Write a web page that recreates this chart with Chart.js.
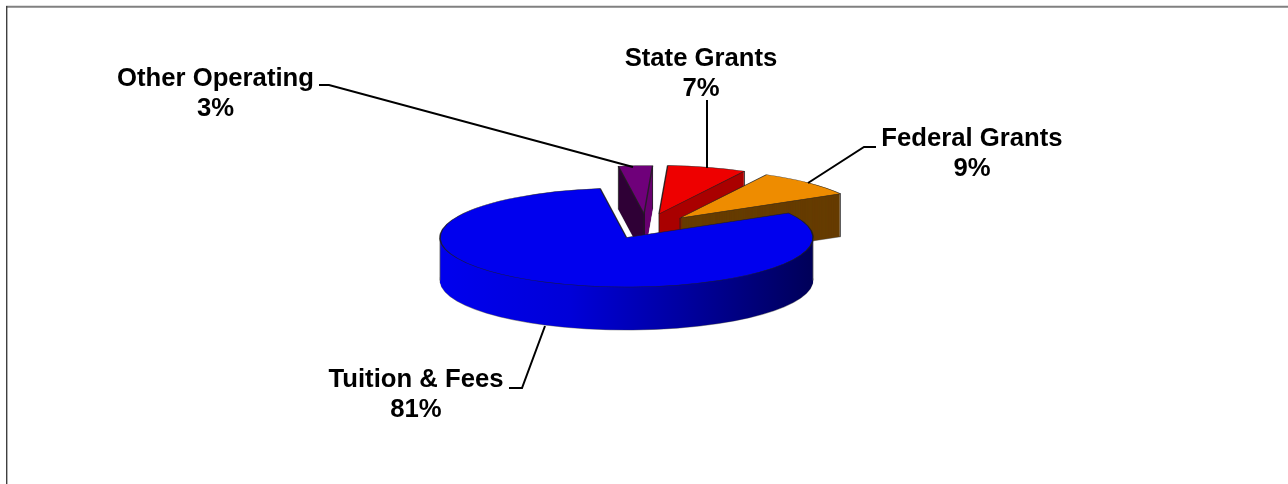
<!DOCTYPE html>
<html>
<head>
<meta charset="utf-8">
<title>Revenue sources</title>
<script src="https://cdn.jsdelivr.net/npm/chart.js@4"></script>
<style>
  html, body { margin: 0; padding: 0; background: #ffffff; }
  canvas { display: block; }
</style>
</head>
<body>
<canvas id="pie" width="1288" height="484"></canvas>
<script>
// Values
const categories = ['Tuition & Fees', 'Other Operating', 'State Grants', 'Federal Grants'];
const shares = [81, 3, 7, 9];

// Colours of each slice: top face and wall
const topColors = ['#0000ee', '#6f007a', '#ee0000', '#ee8c00'];

// Fake 3D set up
const CX = 626.5, CY = 237.5;      // centre of the blue ellipse
const RADIUS = 186.5;
const SQUASH = 0.2654;
const DEPTH = 43;
// apex shift and size of the exploded slices, in screen px
const sliceShift = [[0, 0], [17.5, -23.5], [32.5, -23.5], [53.5, -19.5]];
const sliceScale = [1, 0.975, 0.98, 0.99];
const drawOrder = [1, 2, 3, 0];

// Label positions and leader lines
const FONT = 'bold 25.7px "Liberation Sans", Arial, sans-serif';
const labelPos = [[416, 380], [215.5, 79], [701, 59], [972, 139]];
const leaders = [
  [[509, 388], [522, 388], [545, 326]],
  [[319, 85], [329, 85], [633, 167]],
  [[707, 100], [707, 168]],
  [[876, 147], [864, 147], [808, 183]]
];

function wallFill(ctx, i, toLocal) {
  if (i === 0) {
    const g = ctx.createLinearGradient(toLocal(440), 0, toLocal(813), 0);
    g.addColorStop(0, '#0000ee');
    g.addColorStop(0.35, '#0000d8');
    g.addColorStop(0.65, '#0000a0');
    g.addColorStop(1, '#000058');
    return g;
  }
  if (i === 1) {
    const g = ctx.createLinearGradient(toLocal(617), 0, toLocal(652), 0);
    g.addColorStop(0, '#2f0036');
    g.addColorStop(0.79, '#2f0036');
    g.addColorStop(0.79, '#68006f');
    g.addColorStop(1, '#68006f');
    return g;
  }
  return i === 2 ? '#aa0000' : '#663c00';
}

// vertical seams of a wall, at the apex and the outer corners that show
function drawSeams(ctx, arc, i, sx, sy, s) {
  const r = arc.outerRadius * s;
  const corner = a => [sx + r * Math.cos(a), sy + r * SQUASH * Math.sin(a)];
  let pts;
  if (i === 0) pts = [[CX - RADIUS, CY], [CX + RADIUS, CY]];
  else if (i === 1) pts = [[sx, sy], corner(arc.startAngle), corner(arc.endAngle)];
  else pts = [[sx, sy], corner(arc.endAngle)];

  ctx.save();
  ctx.strokeStyle = i === 0 ? 'rgba(90,90,90,0.8)' : 'rgba(30,30,30,0.8)';
  ctx.lineWidth = 1;
  pts.forEach(p => {
    ctx.beginPath();
    ctx.moveTo(p[0], p[1]);
    ctx.lineTo(p[0], p[1] + DEPTH);
    ctx.stroke();
  });
  ctx.restore();
}

const pie3d = {
  id: 'pie3d',
  // the slices are painted here, squashed and extruded, instead of flat
  beforeDatasetsDraw(chart) {
    const ctx = chart.ctx;
    const arcs = chart.getDatasetMeta(0).data;

    drawOrder.forEach(i => {
      const arc = arcs[i];
      const opts = arc.options;
      const s = sliceScale[i];
      const sx = CX + sliceShift[i][0];
      const sy = CY + sliceShift[i][1];
      const toLocal = x => (x - sx) / s + arc.x;

      const place = d => {
        ctx.translate(sx, sy + d);
        ctx.scale(s, s * SQUASH);
        ctx.translate(-arc.x, -arc.y);
      };

      const fill = wallFill(ctx, i, toLocal);
      for (let d = DEPTH; d > 0; d -= 0.5) {
        ctx.save();
        place(d);
        arc.options = Object.assign({}, opts, {
          backgroundColor: fill,
          borderWidth: d === DEPTH ? 1 : 0,
          borderColor: 'rgba(70,70,70,0.8)'
        });
        arc.draw(ctx);
        ctx.restore();
      }

      drawSeams(ctx, arc, i, sx, sy, s);

      ctx.save();
      place(0);
      arc.options = Object.assign({}, opts, {
        backgroundColor: topColors[i],
        borderWidth: 1.5,
        borderColor: 'rgba(30,30,30,0.85)'
      });
      arc.draw(ctx);
      ctx.restore();
      arc.options = opts;
    });
    return false;
  },
  afterDraw(chart) {
    const ctx = chart.ctx;
    ctx.save();

    // frame, only top and left show
    ctx.strokeStyle = '#808080';
    ctx.lineWidth = 2;
    ctx.beginPath();
    ctx.moveTo(6, 6.7);
    ctx.lineTo(1288, 6.7);
    ctx.stroke();
    ctx.strokeStyle = '#404040';
    ctx.lineWidth = 1.4;
    ctx.beginPath();
    ctx.moveTo(6.7, 6);
    ctx.lineTo(6.7, 484);
    ctx.stroke();

    // leader lines
    ctx.strokeStyle = '#000000';
    ctx.lineWidth = 2;
    leaders.forEach(pts => {
      ctx.beginPath();
      pts.forEach((p, k) => k ? ctx.lineTo(p[0], p[1]) : ctx.moveTo(p[0], p[1]));
      ctx.stroke();
    });

    // labels
    ctx.fillStyle = '#000000';
    ctx.font = FONT;
    ctx.textAlign = 'center';
    ctx.textBaseline = 'middle';
    categories.forEach((name, i) => {
      ctx.fillText(name, labelPos[i][0], labelPos[i][1]);
      ctx.fillText(shares[i] + '%', labelPos[i][0], labelPos[i][1] + 30);
    });
    ctx.restore();
  }
};

new Chart(document.getElementById('pie'), {
  type: 'pie',
  data: {
    labels: categories,
    datasets: [{
      data: shares,
      backgroundColor: topColors,
      borderWidth: 0
    }]
  },
  options: {
    responsive: false,
    animation: false,
    rotation: 60.3,
    radius: RADIUS,
    plugins: {
      legend: { display: false },
      tooltip: { enabled: false }
    }
  },
  plugins: [pie3d]
});
</script>
</body>
</html>
